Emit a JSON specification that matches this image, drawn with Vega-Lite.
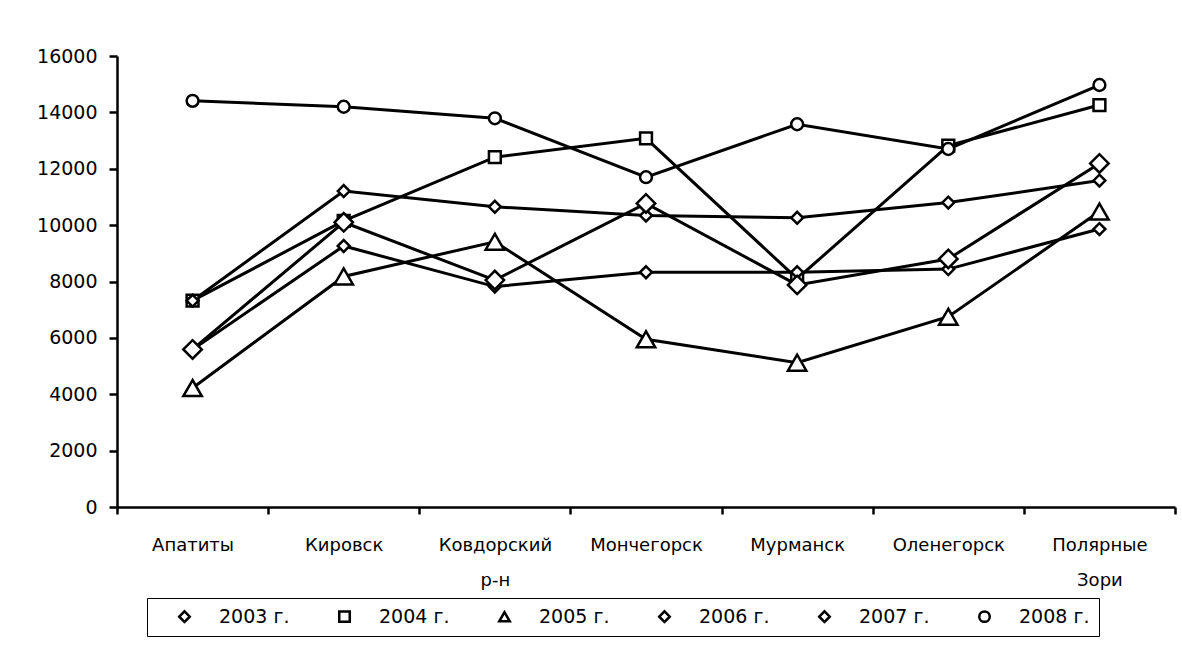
{
  "$schema": "https://vega.github.io/schema/vega-lite/v6.json",
  "width": 1058,
  "height": 451,
  "autosize": {"type": "none"},
  "padding": {"left": 117, "top": 56, "right": 7, "bottom": 153},
  "background": "white",
  "config": {
    "view": {"stroke": null},
    "font": "DejaVu Sans",
    "axis": {"labelColor": "black", "domainColor": "black", "tickColor": "black", "domainWidth": 2.5, "tickWidth": 2.5, "grid": false, "labelFontSize": 18, "labelFont": "DejaVu Sans"},
    "legend": {
      "orient": "none", "legendX": 30, "legendY": 542,
      "direction": "horizontal", "columns": 6,
      "symbolSize": 110, "symbolStrokeWidth": 2.5, "symbolOffset": 19, "symbolOpacity": 1,
      "labelFontSize": 19, "labelColor": "black", "labelFont": "DejaVu Sans", "labelOffset": 25,
      "columnPadding": 26, "padding": 9,
      "strokeColor": "black", "fillColor": "white"
    }
  },
  "data": {
    "values": [
      {"city": "Апатиты", "year": "2003 г.", "value": 5590},
      {"city": "Кировск", "year": "2003 г.", "value": 10100},
      {"city": "Ковдорский р-н", "year": "2003 г.", "value": 8050},
      {"city": "Мончегорск", "year": "2003 г.", "value": 10770},
      {"city": "Мурманск", "year": "2003 г.", "value": 7880},
      {"city": "Оленегорск", "year": "2003 г.", "value": 8800},
      {"city": "Полярные Зори", "year": "2003 г.", "value": 12190},
      {"city": "Апатиты", "year": "2004 г.", "value": 7320},
      {"city": "Кировск", "year": "2004 г.", "value": 10150},
      {"city": "Ковдорский р-н", "year": "2004 г.", "value": 12410},
      {"city": "Мончегорск", "year": "2004 г.", "value": 13080},
      {"city": "Мурманск", "year": "2004 г.", "value": 8100},
      {"city": "Оленегорск", "year": "2004 г.", "value": 12820},
      {"city": "Полярные Зори", "year": "2004 г.", "value": 14260},
      {"city": "Апатиты", "year": "2005 г.", "value": 4220},
      {"city": "Кировск", "year": "2005 г.", "value": 8180},
      {"city": "Ковдорский р-н", "year": "2005 г.", "value": 9410},
      {"city": "Мончегорск", "year": "2005 г.", "value": 5950},
      {"city": "Мурманск", "year": "2005 г.", "value": 5120},
      {"city": "Оленегорск", "year": "2005 г.", "value": 6750},
      {"city": "Полярные Зори", "year": "2005 г.", "value": 10480},
      {"city": "Апатиты", "year": "2006 г.", "value": 7320},
      {"city": "Кировск", "year": "2006 г.", "value": 11210},
      {"city": "Ковдорский р-н", "year": "2006 г.", "value": 10650},
      {"city": "Мончегорск", "year": "2006 г.", "value": 10340},
      {"city": "Мурманск", "year": "2006 г.", "value": 10260},
      {"city": "Оленегорск", "year": "2006 г.", "value": 10800},
      {"city": "Полярные Зори", "year": "2006 г.", "value": 11580},
      {"city": "Апатиты", "year": "2007 г.", "value": 5590},
      {"city": "Кировск", "year": "2007 г.", "value": 9260},
      {"city": "Ковдорский р-н", "year": "2007 г.", "value": 7820},
      {"city": "Мончегорск", "year": "2007 г.", "value": 8330},
      {"city": "Мурманск", "year": "2007 г.", "value": 8330},
      {"city": "Оленегорск", "year": "2007 г.", "value": 8440},
      {"city": "Полярные Зори", "year": "2007 г.", "value": 9860},
      {"city": "Апатиты", "year": "2008 г.", "value": 14410},
      {"city": "Кировск", "year": "2008 г.", "value": 14200},
      {"city": "Ковдорский р-н", "year": "2008 г.", "value": 13790},
      {"city": "Мончегорск", "year": "2008 г.", "value": 11700},
      {"city": "Мурманск", "year": "2008 г.", "value": 13580},
      {"city": "Оленегорск", "year": "2008 г.", "value": 12700},
      {"city": "Полярные Зори", "year": "2008 г.", "value": 14970}
    ]
  },
  "encoding": {
    "x": {
      "field": "city", "type": "nominal", "bandPosition": 0.5,
      "sort": ["Апатиты", "Кировск", "Ковдорский р-н", "Мончегорск", "Мурманск", "Оленегорск", "Полярные Зори"],
      "scale": {"type": "band", "paddingInner": 0, "paddingOuter": 0},
      "axis": {"title": null, "labelAngle": 0, "tickBand": "extent", "tickSize": 7, "labelPadding": 22, "labelExpr": "split(datum.label, ' ')", "labelLineHeight": 35, "labelOverlap": false, "labelLimit": 0, "labelBound": false}
    },
    "y": {
      "field": "value", "type": "quantitative",
      "scale": {"domain": [0, 16000], "nice": false},
      "axis": {"title": null, "values": [0, 2000, 4000, 6000, 8000, 10000, 12000, 14000, 16000], "format": "d", "tickSize": 8, "labelPadding": 12, "labelFontSize": 19}
    }
  },
  "layer": [
    {
      "mark": {"type": "line", "color": "black", "strokeWidth": 3},
      "encoding": {"detail": {"field": "year"}}
    },
    {
      "mark": {"type": "point", "size": 140, "filled": true, "fill": "white", "stroke": "black", "strokeWidth": 2.5, "opacity": 1},
      "encoding": {
        "shape": {
          "field": "year", "type": "nominal", "title": null,
          "scale": {"domain": ["2003 г.", "2004 г.", "2005 г.", "2006 г.", "2007 г.", "2008 г."], "range": ["diamond", "square", "triangle-up", "diamond", "diamond", "circle"]}
        }
      }
    },
    {
      "transform": [{"filter": {"field": "year", "oneOf": ["2003 г.", "2005 г."]}}],
      "mark": {"type": "point", "size": 340, "filled": true, "fill": "white", "stroke": "black", "strokeWidth": 2.5, "opacity": 1},
      "encoding": {
        "shape": {
          "field": "year", "type": "nominal", "title": null,
          "scale": {"domain": ["2003 г.", "2004 г.", "2005 г.", "2006 г.", "2007 г.", "2008 г."], "range": ["diamond", "square", "triangle-up", "diamond", "diamond", "circle"]}
        }
      }
    }
  ]
}
